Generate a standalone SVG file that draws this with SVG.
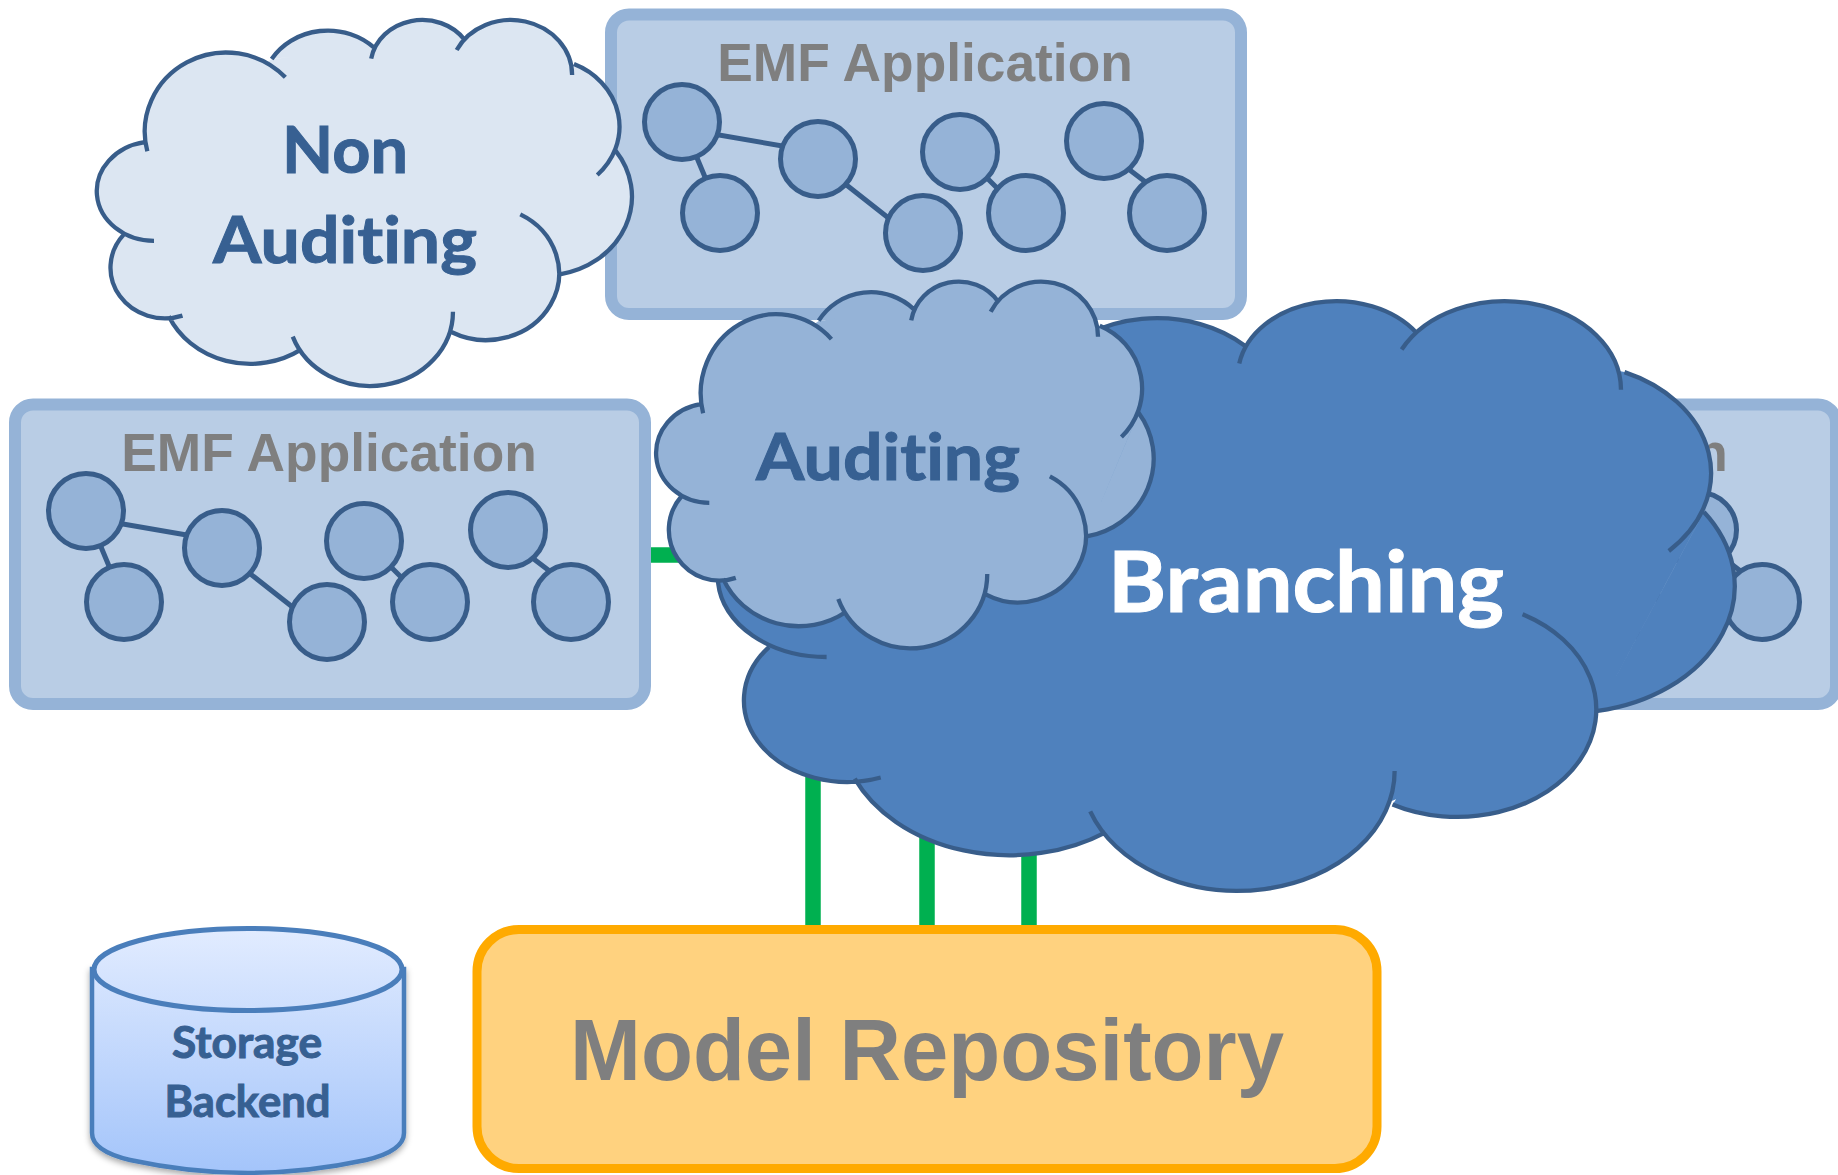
<svg xmlns="http://www.w3.org/2000/svg" width="1838" height="1175" viewBox="0 0 1838 1175">
<style>
.box{fill:#B9CDE5;stroke:#95B3D7;stroke-width:12}
.n{fill:#95B3D7;stroke:#385D8A;stroke-width:5}
.e{stroke:#385D8A;stroke-width:5;fill:none}
.g{stroke:#00B050;stroke-width:15.5;fill:none}
.emf{font-family:"Liberation Sans",Arial,sans-serif;font-weight:700;font-size:53.3px;fill:#7F7F7F;text-anchor:middle}
.cl{font-family:Lato,"Open Sans",sans-serif;font-weight:700;fill:#376092;stroke:#376092;stroke-width:1;text-anchor:middle;font-variant-ligatures:none}
.cf{stroke:none}
.cs{fill:none;stroke:#385D8A;vector-effect:non-scaling-stroke}
</style>
<defs>
<linearGradient id="cyl" gradientUnits="userSpaceOnUse" x1="0" y1="927" x2="0" y2="1175"><stop offset="0" stop-color="#E2ECFF"/><stop offset="1" stop-color="#A3C4FA"/></linearGradient>
<filter id="sh" x="-10%" y="-10%" width="120%" height="125%"><feDropShadow dx="0" dy="3" stdDeviation="3" flood-color="#000" flood-opacity="0.35"/></filter>
<g id="cloud">
<path class="cf" d="M175,426 L518,178 L795,140 L1040,120 L1335,192 L1448,452 L1297,823 L1005,990 L597,1049 L240,949 L118,704 Z M200,722.5 A155,149 0 0 1 175,426.5 Z M182,454 A220,237 0 0 1 555,232 Z M518,177 A178,178 0 0 1 795,143 Z M787,176 A140,140 0 0 1 1040,120 Z M1018,150 A165,165 0 0 1 1330,225 Z M1335,192 A205,205 0 0 1 1398,525 Z M1448,452.5 A237,237 0 0 1 1297,823 Z M1190,643 A197,200 0 1 1 1005,997 Z M1008,935 A223,223 0 0 1 575,1010 Z M597,1049 A241,241 0 0 1 240,949 Z M277,947 A147,152 0 0 1 118,704 Z"/>
<path class="cs" d="M200,722.5 A155,149 0 0 1 175,426.5 M182,454 A220,237 0 0 1 555,232 M518,177 A178,178 0 0 1 795,143 M787,176 A140,140 0 0 1 1040,120 M1018,150 A165,165 0 0 1 1330,225 M1335,192 A205,205 0 0 1 1398,525 M1448,452.5 A237,237 0 0 1 1297,823 M1190,643 A197,200 0 1 1 1005,997 M1008,935 A223,223 0 0 1 575,1010 M597,1049 A241,241 0 0 1 240,949 M277,947 A147,152 0 0 1 118,704"/>
</g>
<g id="graph">
<path class="e" d="M690,130 L800,149 M682,122 L720,213 M830,172 L905,231 M975,166 L1010,201 M1110,155 L1160,193"/>
<circle class="n" cx="682" cy="122" r="37.5"/><circle class="n" cx="818" cy="159" r="37.5"/><circle class="n" cx="720" cy="213" r="37.5"/><circle class="n" cx="960" cy="152" r="37.5"/><circle class="n" cx="923" cy="233" r="37.5"/><circle class="n" cx="1026" cy="213" r="37.5"/><circle class="n" cx="1104" cy="141" r="37.5"/><circle class="n" cx="1167" cy="213" r="37.5"/>
</g>
</defs>
<g id="connectors">
<path class="g" d="M813,760 V926 M927,780 V926 M1029,800 V926 M651,555 H700"/>
</g>
<g id="emf-top">
<rect class="box" x="611" y="14.5" width="630" height="299.5" rx="18"/>
<text class="emf" x="925" y="81">EMF Application</text>
<use href="#graph"/>
</g>
<g id="emf-left">
<rect class="box" x="15" y="404.5" width="630" height="299.5" rx="18"/>
<text class="emf" x="329" y="471">EMF Application</text>
<use href="#graph" transform="translate(-596,389)"/>
</g>
<g id="emf-right">
<rect class="box" x="1206" y="404.5" width="630" height="299.5" rx="18"/>
<text class="emf" x="1520" y="471">EMF Application</text>
<use href="#graph" transform="translate(595,389)"/>
</g>
<g id="branching">
<use href="#cloud" transform="translate(686,269) scale(.703,.537)" fill="#4F81BD" stroke-width="4.3"/>
<text class="cl" x="1306" y="612" font-size="84" style="fill:#fff;stroke:#fff" textLength="396" lengthAdjust="spacingAndGlyphs">Branching</text>
</g>
<g id="auditing">
<use href="#cloud" transform="translate(640.5,261.6) scale(.344,.334)" fill="#95B3D7" stroke-width="4.3"/>
<text class="cl" x="888" y="480" font-size="65" textLength="264" lengthAdjust="spacingAndGlyphs">Auditing</text>
</g>
<g id="non-auditing">
<use href="#cloud" transform="translate(80,0) scale(.37,.3333)" fill="#DCE6F2" stroke-width="4.3"/>
<text class="cl" x="345" y="173" font-size="65" textLength="126" lengthAdjust="spacingAndGlyphs">Non</text>
<text class="cl" x="345" y="263" font-size="65" textLength="264" lengthAdjust="spacingAndGlyphs">Auditing</text>
</g>
<g id="storage-backend">
<path d="M92,969 V1133 Q92,1151 130,1160 Q190,1173 248,1173 Q306,1173 366,1160 Q404,1151 404,1133 V969 Z" fill="url(#cyl)" stroke="#4A7EBB" stroke-width="4.5" filter="url(#sh)"/>
<ellipse cx="248" cy="969.5" rx="154" ry="41" fill="url(#cyl)" stroke="#4A7EBB" stroke-width="5"/>
<text class="cl" x="247" y="1058" font-size="43" textLength="150" lengthAdjust="spacingAndGlyphs">Storage</text>
<text class="cl" x="247.5" y="1117" font-size="43" textLength="166" lengthAdjust="spacingAndGlyphs">Backend</text>
</g>
<g id="model-repository">
<rect x="477" y="929.5" width="900" height="239" rx="42" fill="#FFD27F" stroke="#FFAA00" stroke-width="9"/>
<text x="927" y="1080" font-family="'Liberation Sans',Arial,sans-serif" font-weight="700" font-size="88" fill="#7F7F7F" text-anchor="middle" textLength="714" lengthAdjust="spacingAndGlyphs">Model Repository</text>
</g>
</svg>
